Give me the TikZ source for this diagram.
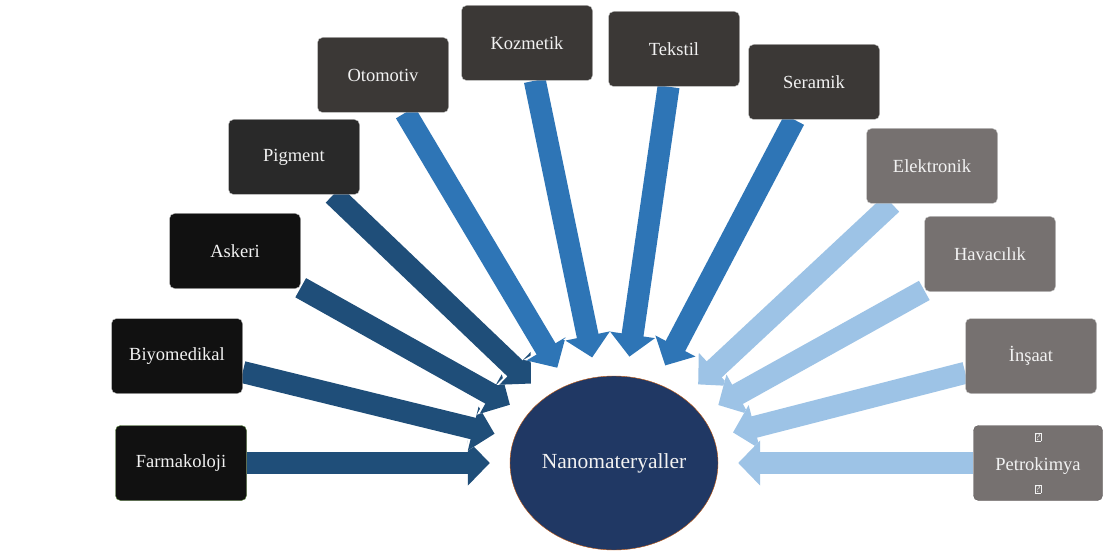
\documentclass[tikz,border=0pt]{standalone}
\usepackage{fontspec}
\setmainfont{Liberation Serif}
\usetikzlibrary{arrows.meta,shapes.geometric,backgrounds}
\definecolor{koyumavi}{HTML}{1F4E79}
\definecolor{mavi}{HTML}{2E75B6}
\definecolor{acikmavi}{HTML}{9DC3E6}
\definecolor{siyah}{HTML}{111111}
\definecolor{koyugri}{HTML}{3B3836}
\definecolor{gri}{HTML}{767170}
\definecolor{lacivert}{HTML}{203864}
\definecolor{turuncu}{HTML}{C55A11}
\definecolor{yesil}{HTML}{548235}
\newcommand{\kutucuk}{{\fontsize{10}{12}\selectfont\fboxsep=0.5pt\fboxrule=0.5pt\fbox{?}}}
\begin{document}
\begin{tikzpicture}[x=1pt,y=-1pt,
  kutu/.style={draw=white!80!black,rounded corners=5pt,minimum width=131pt,minimum height=75pt,
    text=white!95!black,font=\fontsize{18.5}{26}\selectfont},
  ok/.style={line width=22pt,-{Triangle[width=44pt,length=22pt]},shorten >=20pt,
    preaction={draw=white,line width=24.5pt,-{Triangle[width=48pt,length=24pt]}}}]
\useasboundingbox (0,0) rectangle (1103,556);
% merkez
\node [ellipse,draw=turuncu,fill=lacivert,inner sep=0pt,minimum width=208pt,minimum height=174pt,
  text=white!95!black,font=\fontsize{21.5}{24}\selectfont] (nano) at (614,463) {Nanomateryaller};
% sol kutular
\node [kutu,fill=siyah,draw=yesil] (farm) at (181,463) {Farmakoloji};
\node [kutu,fill=siyah] (biyo) at (177,356) {Biyomedikal};
\node [kutu,fill=siyah] (asker) at (235,251) {Askeri};
\node [kutu,fill=siyah!90!white] (pigm) at (294,157) {Pigment};
% ust kutular
\node [kutu,fill=koyugri] (otom) at (383,75) {Otomotiv};
\node [kutu,fill=koyugri] (kozm) at (527,43) {Kozmetik};
\node [kutu,fill=koyugri] (teks) at (674,49) {Tekstil};
\node [kutu,fill=koyugri] (seram) at (814,82) {Seramik};
% sag kutular
\node [kutu,fill=gri] (elek) at (932,166) {Elektronik};
\node [kutu,fill=gri] (hava) at (990,254) {Havacılık};
\node [kutu,fill=gri] (insa) at (1031,356) {İnşaat};
\node [kutu,fill=gri,draw=gri!80!black,minimum width=129pt,align=center] (petro) at (1038,463)
  {\kutucuk\\[4pt]Petrokimya\\[-4pt]\kutucuk};
\begin{scope}[on background layer]
\foreach \k in {farm,biyo,asker,pigm} \draw [ok,koyumavi] (\k) -- (nano);
\foreach \k in {otom,kozm,teks,seram} \draw [ok,mavi] (\k) -- (nano);
\foreach \k in {elek,hava,insa,petro} \draw [ok,acikmavi] (\k) -- (nano);
\end{scope}
\end{tikzpicture}
\end{document}
